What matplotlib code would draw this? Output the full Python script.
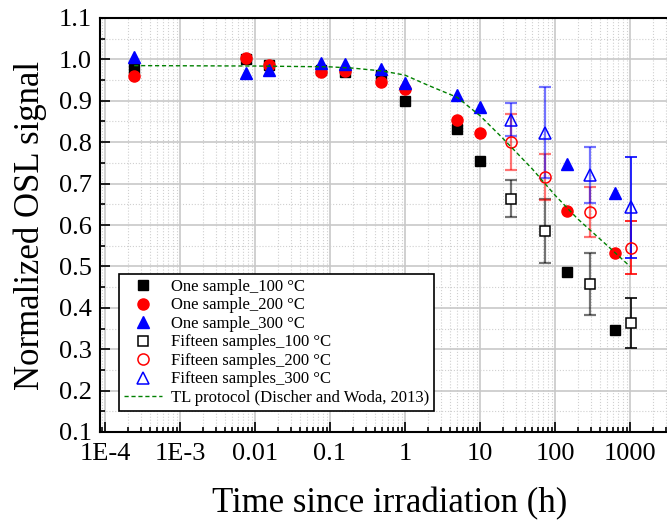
import numpy as np
import matplotlib
matplotlib.use("Agg")
import matplotlib.pyplot as plt
from matplotlib.ticker import FixedLocator, LogLocator, MultipleLocator, NullFormatter

plt.rcParams['font.family'] = ['Liberation Serif', 'DejaVu Serif']

# one sample series (time in h)
t_one = [0.000245, 0.0076, 0.0154, 0.077, 0.158, 0.48, 1.0, 5.0, 10.0, 143.0, 625.0]
one_100 = [0.978, 1.000, 0.986, 0.975, 0.970, 0.962, 0.900, 0.831, 0.755, 0.487, 0.346]
one_200 = [0.960, 1.004, 0.986, 0.969, 0.973, 0.946, 0.928, 0.854, 0.823, 0.634, 0.533]
one_300 = [1.005, 0.968, 0.974, 0.992, 0.989, 0.978, 0.942, 0.914, 0.886, 0.747, 0.677]

# fifteen samples series with error bars
t_fif = [26.0, 74.0, 295.0, 1040.0]
fif_100 = [0.664, 0.586, 0.457, 0.364]
err_100 = [0.045, 0.077, 0.075, 0.060]
fif_200 = [0.800, 0.716, 0.631, 0.545]
err_200 = [0.068, 0.055, 0.060, 0.064]
fif_300 = [0.854, 0.823, 0.721, 0.643]
err_300 = [0.040, 0.110, 0.068, 0.122]

# TL protocol curve (Discher and Woda, 2013)
t_tl = [0.000245, 0.01, 0.1, 0.2, 0.5, 1, 2, 5, 10, 20, 50, 100, 200, 500, 1000]
y_tl = [0.985, 0.984, 0.982, 0.979, 0.972, 0.962, 0.938, 0.908, 0.864, 0.81, 0.735, 0.672, 0.615, 0.55, 0.50]

xticks = [1e-4, 1e-3, 0.01, 0.1, 1, 10, 100, 1000]
xticklabels = ['1E-4', '1E-3', '0.01', '0.1', '1', '10', '100', '1000']
yticks = [0.1, 0.2, 0.3, 0.4, 0.5, 0.6, 0.7, 0.8, 0.9, 1.0, 1.1]

fig = plt.figure(figsize=(6.67, 5.24), dpi=100)
ax = fig.add_axes([100/667, 92/524, 580/667, 414/524])
ax.set_xscale('log')
ax.set_xlim(8.58e-5, 4640)
ax.set_ylim(0.1, 1.1)

ax.grid(True, which='major', color='#c8c8c8', lw=1.2, ls='-', zorder=0)
ax.grid(True, which='minor', color='#d0d0d0', lw=0.8, ls=':', zorder=0)
ax.set_axisbelow(True)

ms = 8
h1, = ax.plot(t_one, one_100, 's', color='black', ms=ms*0.95, ls='none', label='One sample_100 °C')
h2, = ax.plot(t_one, one_200, 'o', color='red', ms=ms, ls='none', label='One sample_200 °C')
h3, = ax.plot(t_one, one_300, '^', color='blue', ms=ms, ls='none', label='One sample_300 °C')

series = [(fif_100, err_100, 'black'), (fif_200, err_200, 'red'), (fif_300, err_300, 'blue')]
for y, e, c in series:
    ax.errorbar(t_fif[:3], y[:3], yerr=e[:3], fmt='none', ecolor=c, alpha=0.55,
                elinewidth=1.6, capsize=4, capthick=1.6, zorder=3)
    ax.errorbar(t_fif[3:], y[3:], yerr=e[3:], fmt='none', ecolor=c,
                elinewidth=1.2, capsize=4, capthick=1.2, zorder=3)

h4, = ax.plot(t_fif, fif_100, 's', mfc='white', mec='black', mew=1.1, ms=ms*0.95, ls='none',
              label='Fifteen samples_100 °C', zorder=4)
h5, = ax.plot(t_fif, fif_200, 'o', mfc='none', mec='red', mew=1.1, ms=ms, ls='none',
              label='Fifteen samples_200 °C', zorder=4)
h6, = ax.plot(t_fif, fif_300, '^', mfc='none', mec='blue', mew=1.1, ms=ms, ls='none',
              label='Fifteen samples_300 °C', zorder=4)

h7, = ax.plot(t_tl, y_tl, ls=(0, (3, 2)), color='green', lw=1.0,
              label='TL protocol (Discher and Woda, 2013)', zorder=5)

ax.xaxis.set_major_locator(FixedLocator(xticks))
ax.set_xticklabels(xticklabels)
ax.xaxis.set_minor_locator(LogLocator(base=10, subs=np.arange(2, 10), numticks=20))
ax.xaxis.set_minor_formatter(NullFormatter())
ax.set_yticks(yticks)
ax.set_yticklabels(['%.1f' % v for v in yticks])
ax.yaxis.set_minor_locator(MultipleLocator(0.05))

ax.tick_params(which='both', direction='in', top=False, right=False, labelsize=19, width=1.2)
ax.tick_params(which='major', length=7)
ax.tick_params(which='minor', length=3.5)
ax.tick_params(axis='x', pad=8)
ax.tick_params(axis='y', pad=6)

for s in ['left', 'bottom', 'top']:
    ax.spines[s].set_linewidth(1.5)
ax.spines['right'].set_visible(False)

ax.set_xlabel('Time since irradiation (h)', fontsize=25, labelpad=16)
ax.set_ylabel('Normalized OSL signal', fontsize=25, labelpad=8)

leg = ax.legend(handles=[h1, h2, h3, h4, h5, h6, h7], loc='lower left',
                bbox_to_anchor=(0.033, 0.051), borderaxespad=0, fontsize=12,
                frameon=True, fancybox=False, edgecolor='black', framealpha=1,
                handlelength=2.3, handletextpad=0.5, labelspacing=0.15, borderpad=0.3)
leg.get_frame().set_linewidth(1.2)

fig.savefig('out.png', dpi=100)
